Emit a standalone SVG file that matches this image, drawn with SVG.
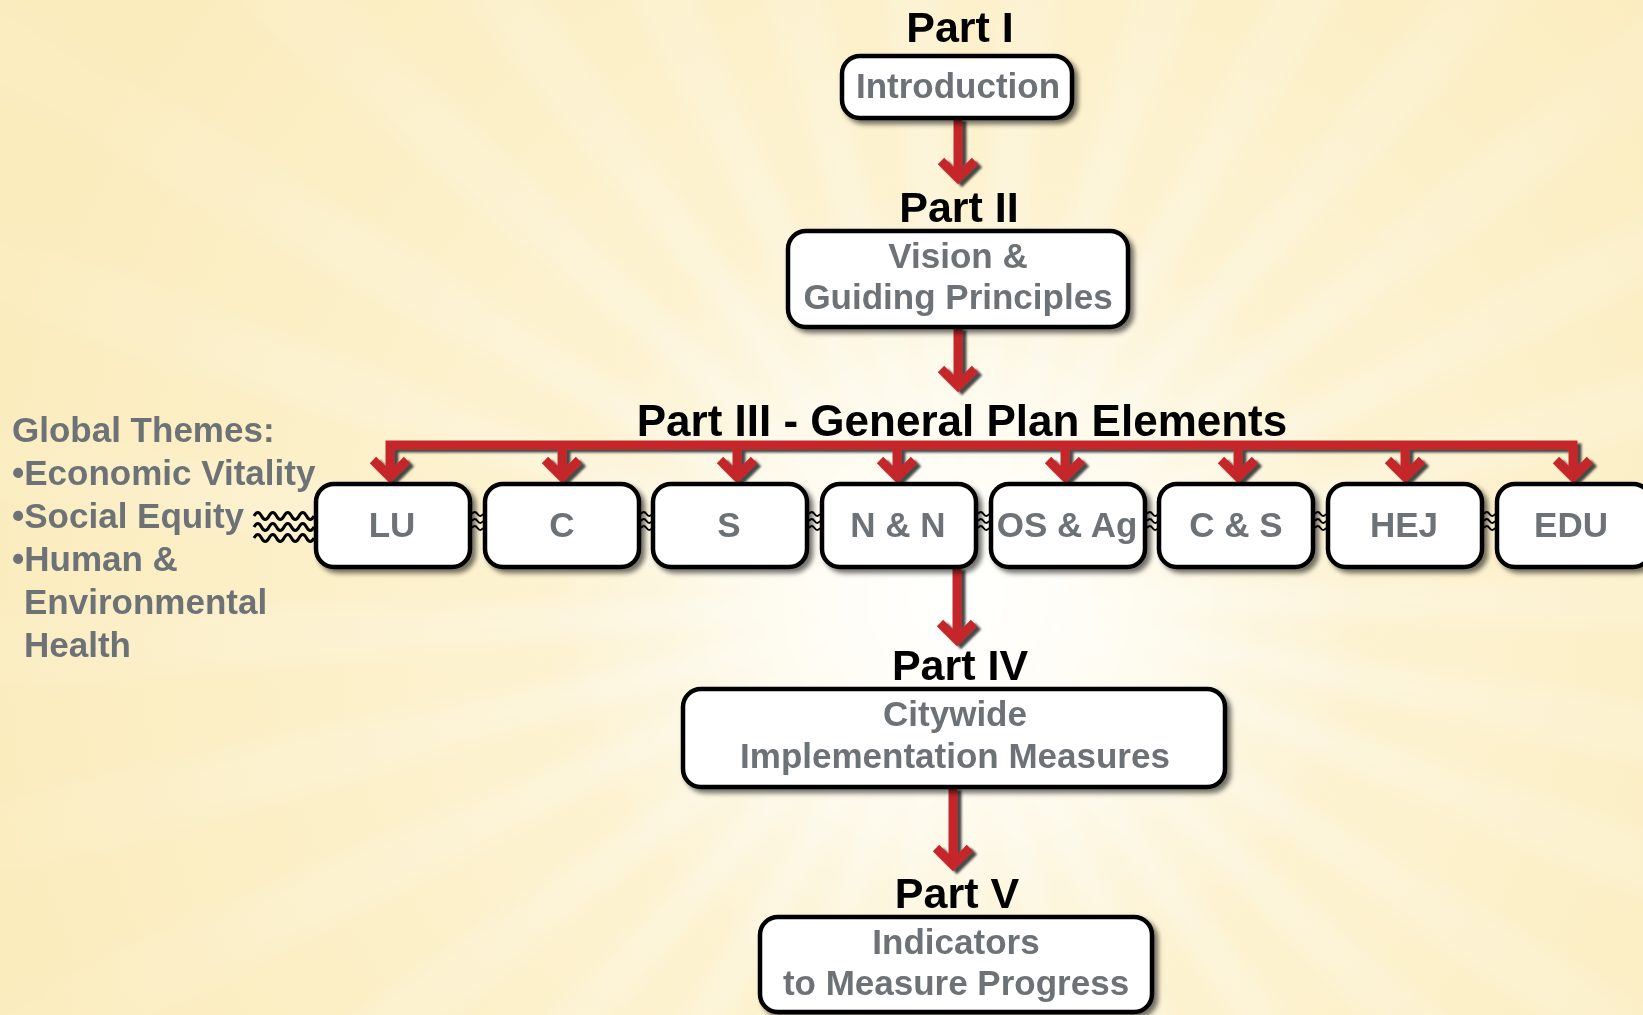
<svg xmlns="http://www.w3.org/2000/svg" xmlns:xlink="http://www.w3.org/1999/xlink" width="1643" height="1015" viewBox="0 0 1643 1015">
<defs>
<style>
.title{font-family:"Liberation Sans",Arial,sans-serif;font-weight:bold;font-size:43px;fill:#000;text-anchor:middle}
.lbl{font-family:"Liberation Sans",Arial,sans-serif;font-weight:bold;font-size:35px;fill:#6d7277;text-anchor:middle}
.theme{font-family:"Liberation Sans",Arial,sans-serif;font-weight:bold;font-size:35px;fill:#6d7277}
.box{fill:#fff;stroke:#000;stroke-width:4.5;filter:url(#sh)}
.arr{fill:none;stroke:#c4282c;stroke-width:9;stroke-linejoin:miter;stroke-miterlimit:10}
.wave{fill:none;stroke:#000;stroke-width:3}
.swave{fill:none;stroke:#000;stroke-width:2}
</style>
<radialGradient id="bg" cx="957" cy="600" r="1000" gradientUnits="userSpaceOnUse">
<stop offset="0" stop-color="#fffdf0"/>
<stop offset="0.3" stop-color="#fdf4d4"/>
<stop offset="1" stop-color="#fbecbd"/>
</radialGradient>
<radialGradient id="glow" cx="957" cy="600" r="420" gradientUnits="userSpaceOnUse">
<stop offset="0" stop-color="#ffffff" stop-opacity="0.85"/>
<stop offset="1" stop-color="#ffffff" stop-opacity="0"/>
</radialGradient>
<radialGradient id="fade" cx="957" cy="600" r="1000" gradientUnits="userSpaceOnUse">
<stop offset="0" stop-color="#fff"/>
<stop offset="0.45" stop-color="#999"/>
<stop offset="1" stop-color="#222"/>
</radialGradient>
<mask id="raymask" maskUnits="userSpaceOnUse" x="0" y="0" width="1643" height="1015">
<rect x="0" y="0" width="1643" height="1015" fill="url(#fade)"/>
</mask>
<filter id="sh" x="-10%" y="-15%" width="125%" height="140%">
<feDropShadow dx="4" dy="4" stdDeviation="2.5" flood-color="#000" flood-opacity="0.55"/>
</filter>
<filter id="ash" x="-30%" y="-20%" width="160%" height="150%">
<feDropShadow dx="4" dy="3" stdDeviation="1" flood-color="#2a2a2a" flood-opacity="0.85"/>
</filter>
<filter id="blur" x="-10%" y="-10%" width="120%" height="120%">
<feGaussianBlur stdDeviation="10"/>
</filter>
<path id="ray" d="M957,600 L2955,513 L2955,687 Z"/>
</defs>

<g id="background">
<rect x="0" y="0" width="1643" height="1015" fill="url(#bg)"/>
<g mask="url(#raymask)">
<g fill="#ffffff" opacity="0.38" filter="url(#blur)">
<use xlink:href="#ray" transform="rotate(0 957 600)"/>
<use xlink:href="#ray" transform="rotate(11 957 600)"/>
<use xlink:href="#ray" transform="rotate(21 957 600)"/>
<use xlink:href="#ray" transform="rotate(33 957 600)"/>
<use xlink:href="#ray" transform="rotate(43 957 600)"/>
<use xlink:href="#ray" transform="rotate(54 957 600)"/>
<use xlink:href="#ray" transform="rotate(65 957 600)"/>
<use xlink:href="#ray" transform="rotate(76 957 600)"/>
<use xlink:href="#ray" transform="rotate(88 957 600)"/>
<use xlink:href="#ray" transform="rotate(99 957 600)"/>
<use xlink:href="#ray" transform="rotate(110 957 600)"/>
<use xlink:href="#ray" transform="rotate(121 957 600)"/>
<use xlink:href="#ray" transform="rotate(132 957 600)"/>
<use xlink:href="#ray" transform="rotate(143 957 600)"/>
<use xlink:href="#ray" transform="rotate(155 957 600)"/>
<use xlink:href="#ray" transform="rotate(166 957 600)"/>
<use xlink:href="#ray" transform="rotate(177 957 600)"/>
<use xlink:href="#ray" transform="rotate(188 957 600)"/>
<use xlink:href="#ray" transform="rotate(199 957 600)"/>
<use xlink:href="#ray" transform="rotate(210 957 600)"/>
<use xlink:href="#ray" transform="rotate(222 957 600)"/>
<use xlink:href="#ray" transform="rotate(233 957 600)"/>
<use xlink:href="#ray" transform="rotate(244 957 600)"/>
<use xlink:href="#ray" transform="rotate(255 957 600)"/>
<use xlink:href="#ray" transform="rotate(266 957 600)"/>
<use xlink:href="#ray" transform="rotate(277 957 600)"/>
<use xlink:href="#ray" transform="rotate(289 957 600)"/>
<use xlink:href="#ray" transform="rotate(300 957 600)"/>
<use xlink:href="#ray" transform="rotate(311 957 600)"/>
<use xlink:href="#ray" transform="rotate(322 957 600)"/>
<use xlink:href="#ray" transform="rotate(333 957 600)"/>
<use xlink:href="#ray" transform="rotate(344 957 600)"/>
</g>
</g>
<rect x="0" y="0" width="1643" height="1015" fill="url(#glow)"/>
</g>

<g id="connectors">
<g filter="url(#ash)"><path class="arr" d="M958,118 V178 M941,161 L958,178 L975,161"/></g>
<g filter="url(#ash)"><path class="arr" d="M958,327 V386 M941,369 L958,386 L975,369"/></g>
<g filter="url(#ash)">
<path class="arr" d="M390,477 V445 H1573 V477"/>
<path class="arr" d="M562,445 V477 M737,445 V477 M897,445 V477 M1065,445 V477 M1238,445 V477 M1405,445 V477"/>
<path class="arr" d="M373,460 L390,477 L407,460 M545,460 L562,477 L579,460 M720,460 L737,477 L754,460 M880,460 L897,477 L914,460 M1048,460 L1065,477 L1082,460 M1221,460 L1238,477 L1255,460 M1388,460 L1405,477 L1422,460 M1556,460 L1573,477 L1590,460"/>
</g>
<g filter="url(#ash)"><path class="arr" d="M957,567 V640 M940,623 L957,640 L974,623"/></g>
<g filter="url(#ash)"><path class="arr" d="M953,787 V865 M936,848 L953,865 L970,848"/></g>
<path class="wave" d="M254,516 q3.75,-7 7.5,0 t7.5,0 t7.5,0 t7.5,0 t7.5,0 t7.5,0 t7.5,0 t7.5,0 M254,527 q3.75,-7 7.5,0 t7.5,0 t7.5,0 t7.5,0 t7.5,0 t7.5,0 t7.5,0 t7.5,0 M254,538 q3.75,-7 7.5,0 t7.5,0 t7.5,0 t7.5,0 t7.5,0 t7.5,0 t7.5,0 t7.5,0"/>
<path class="swave" d="M472,514 q2.75,-4 5.5,0 t5.5,0 M472,521 q2.75,-4 5.5,0 t5.5,0 M472,528 q2.75,-4 5.5,0 t5.5,0"/>
<path class="swave" d="M641,514 q2.75,-4 5.5,0 t5.5,0 M641,521 q2.75,-4 5.5,0 t5.5,0 M641,528 q2.75,-4 5.5,0 t5.5,0"/>
<path class="swave" d="M809,514 q2.75,-4 5.5,0 t5.5,0 M809,521 q2.75,-4 5.5,0 t5.5,0 M809,528 q2.75,-4 5.5,0 t5.5,0"/>
<path class="swave" d="M978,514 q2.75,-4 5.5,0 t5.5,0 M978,521 q2.75,-4 5.5,0 t5.5,0 M978,528 q2.75,-4 5.5,0 t5.5,0"/>
<path class="swave" d="M1147,514 q2.75,-4 5.5,0 t5.5,0 M1147,521 q2.75,-4 5.5,0 t5.5,0 M1147,528 q2.75,-4 5.5,0 t5.5,0"/>
<path class="swave" d="M1315,514 q2.75,-4 5.5,0 t5.5,0 M1315,521 q2.75,-4 5.5,0 t5.5,0 M1315,528 q2.75,-4 5.5,0 t5.5,0"/>
<path class="swave" d="M1484,514 q2.75,-4 5.5,0 t5.5,0 M1484,521 q2.75,-4 5.5,0 t5.5,0 M1484,528 q2.75,-4 5.5,0 t5.5,0"/>
</g>

<g id="part1">
<text class="title" x="960" y="42">Part I</text>
<rect class="box" x="842" y="56" width="230" height="62" rx="18"/>
<text class="lbl" x="958" y="98">Introduction</text>
</g>

<g id="part2">
<text class="title" x="959" y="222">Part II</text>
<rect class="box" x="788" y="231" width="340" height="96" rx="18"/>
<text class="lbl" x="958" y="268">Vision &amp;</text>
<text class="lbl" x="958" y="309">Guiding Principles</text>
</g>

<g id="part3">
<text class="title" x="962" y="436" style="font-size:44px">Part III - General Plan Elements</text>
</g>

<g id="themes">
<text class="theme" x="12" y="442">Global Themes:</text>
<text class="theme" x="12" y="485">•Economic Vitality</text>
<text class="theme" x="12" y="528">•Social Equity</text>
<text class="theme" x="12" y="571">•Human &amp;</text>
<text class="theme" x="24" y="614">Environmental</text>
<text class="theme" x="24" y="657">Health</text>
</g>

<g id="el-lu"><rect class="box" x="316" y="484" width="154" height="83" rx="18"/><text class="lbl" x="392" y="537">LU</text></g>
<g id="el-c"><rect class="box" x="485" y="484" width="154" height="83" rx="18"/><text class="lbl" x="562" y="537">C</text></g>
<g id="el-s"><rect class="box" x="653" y="484" width="154" height="83" rx="18"/><text class="lbl" x="729" y="537">S</text></g>
<g id="el-nn"><rect class="box" x="822" y="484" width="154" height="83" rx="18"/><text class="lbl" x="898" y="537">N &amp; N</text></g>
<g id="el-osag"><rect class="box" x="991" y="484" width="154" height="83" rx="18"/><text class="lbl" x="1067" y="537">OS &amp; Ag</text></g>
<g id="el-cs"><rect class="box" x="1159" y="484" width="154" height="83" rx="18"/><text class="lbl" x="1236" y="537">C &amp; S</text></g>
<g id="el-hej"><rect class="box" x="1328" y="484" width="154" height="83" rx="18"/><text class="lbl" x="1404" y="537">HEJ</text></g>
<g id="el-edu"><rect class="box" x="1497" y="484" width="154" height="83" rx="18"/><text class="lbl" x="1571" y="537">EDU</text></g>

<g id="part4">
<text class="title" x="960" y="680">Part IV</text>
<rect class="box" x="683" y="689" width="542" height="98" rx="18"/>
<text class="lbl" x="955" y="726">Citywide</text>
<text class="lbl" x="955" y="768">Implementation Measures</text>
</g>

<g id="part5">
<text class="title" x="957" y="908">Part V</text>
<rect class="box" x="760" y="917" width="392" height="95" rx="18"/>
<text class="lbl" x="956" y="954">Indicators</text>
<text class="lbl" x="956" y="995">to Measure Progress</text>
</g>
</svg>
